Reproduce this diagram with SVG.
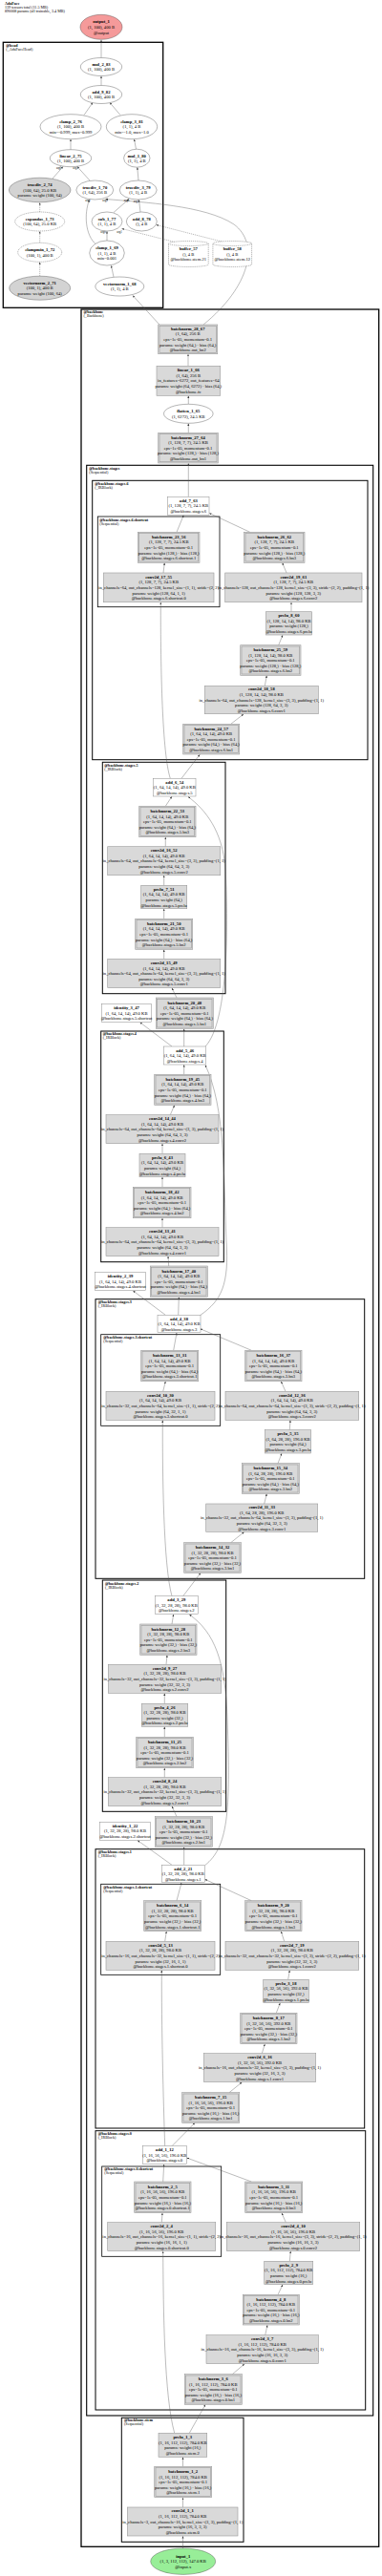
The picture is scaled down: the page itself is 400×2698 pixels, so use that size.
<svg xmlns="http://www.w3.org/2000/svg" width="400" height="2698" viewBox="0 0 400 2698">
<style>
text{font-family:"Liberation Serif","Times New Roman",serif;font-size:4.6px;fill:#000}
.t{text-anchor:middle}
.b{font-weight:bold}
.cl{font-size:4.1px}
.hd{font-size:4.1px}
.g{fill:#d9d9d9;stroke:#9a9a9a;stroke-width:0.6}
.gi{fill:none;stroke:#9a9a9a;stroke-width:0.6}
.w{fill:#fff;stroke:#8a8a8a;stroke-width:0.5}
.el{fill:#fff;stroke:#444;stroke-width:0.4}
.elg{fill:#d3d3d3;stroke:#444;stroke-width:0.4}
.eld{fill:#fff;stroke:#444;stroke-width:0.4;stroke-dasharray:1.2,0.8}
.box{fill:none;stroke:#000}
.e path{fill:none;stroke:#555;stroke-width:0.4;marker-end:url(#a)}
.e path.d{stroke-dasharray:1.2,0.8}
.lb{font-size:3px;text-anchor:middle}
</style>
<defs>
<marker id="a" viewBox="0 0 10 10" refX="10" refY="5" markerWidth="2.4" markerHeight="2.4" orient="auto" markerUnits="userSpaceOnUse"><path d="M0,1L10,5L0,9z" fill="#333"/></marker>
</defs>
<rect width="400" height="2698" fill="#fff"/>
<g id="header">
<text class="hd" x="5" y="5"><tspan class="b">AdaFace</tspan><tspan x="5" dy="4">139 tensors total (11.5 MB)</tspan><tspan x="5" dy="4">890008 params (all trainable, 3.4 MB)</tspan></text>
</g>
<g id="clusters">
<rect class="box" x="3.3" y="44.3" width="167.4" height="278" stroke-width="1.3"/>
<text class="cl" x="6.3" y="48.7"><tspan class="b">@head</tspan><tspan x="6.3" dy="4">(_AdaFaceHead)</tspan></text>
<rect class="box" x="85" y="324" width="311.7" height="2343.3" stroke-width="1.3"/>
<text class="cl" x="87.5" y="328.2"><tspan class="b">@backbone</tspan><tspan x="87.5" dy="4">(_Backbone)</tspan></text>
<rect class="box" x="90.7" y="487.3" width="300" height="2042.7" stroke-width="1.1"/>
<text class="cl" x="93.3" y="492"><tspan class="b">@backbone.stages</tspan><tspan x="93.3" dy="4">(Sequential)</tspan></text>
<rect class="box" x="96.7" y="503.3" width="288.3" height="292.4" stroke-width="1"/>
<text class="cl" x="99.3" y="508"><tspan class="b">@backbone.stages.6</tspan><tspan x="99.3" dy="4">(_IRBlock)</tspan></text>
<rect class="box" x="102.3" y="541" width="127.7" height="94.7" stroke-width="0.8"/>
<text class="cl" x="104.3" y="545.6"><tspan class="b">@backbone.stages.6.shortcut</tspan><tspan x="104.3" dy="4">(Sequential)</tspan></text>
<rect class="box" x="107.3" y="798.3" width="128.7" height="242.4" stroke-width="1"/>
<text class="cl" x="109.3" y="803"><tspan class="b">@backbone.stages.5</tspan><tspan x="109.3" dy="4">(_IRBlock)</tspan></text>
<rect class="box" x="105.7" y="1080" width="128.6" height="241.7" stroke-width="1"/>
<text class="cl" x="107.7" y="1084"><tspan class="b">@backbone.stages.4</tspan><tspan x="107.7" dy="4">(_IRBlock)</tspan></text>
<rect class="box" x="100" y="1360.7" width="281.7" height="292.6" stroke-width="1"/>
<text class="cl" x="102.7" y="1364.6"><tspan class="b">@backbone.stages.3</tspan><tspan x="102.7" dy="4">(_IRBlock)</tspan></text>
<rect class="box" x="105.7" y="1397.7" width="125" height="95.6" stroke-width="0.8"/>
<text class="cl" x="108.3" y="1402"><tspan class="b">@backbone.stages.3.shortcut</tspan><tspan x="108.3" dy="4">(Sequential)</tspan></text>
<rect class="box" x="107.3" y="1655" width="129.4" height="242.3" stroke-width="1"/>
<text class="cl" x="110" y="1659.6"><tspan class="b">@backbone.stages.2</tspan><tspan x="110" dy="4">(_IRBlock)</tspan></text>
<rect class="box" x="100" y="1936.7" width="281.7" height="292.3" stroke-width="1"/>
<text class="cl" x="102.7" y="1940.6"><tspan class="b">@backbone.stages.1</tspan><tspan x="102.7" dy="4">(_IRBlock)</tspan></text>
<rect class="box" x="105.7" y="1973.3" width="125" height="95" stroke-width="0.8"/>
<text class="cl" x="108.3" y="1978"><tspan class="b">@backbone.stages.1.shortcut</tspan><tspan x="108.3" dy="4">(Sequential)</tspan></text>
<rect class="box" x="100" y="2231.7" width="282.7" height="292.3" stroke-width="1"/>
<text class="cl" x="102.7" y="2235.6"><tspan class="b">@backbone.stages.0</tspan><tspan x="102.7" dy="4">(_IRBlock)</tspan></text>
<rect class="box" x="106.7" y="2269" width="125" height="94.3" stroke-width="0.8"/>
<text class="cl" x="109.3" y="2273"><tspan class="b">@backbone.stages.0.shortcut</tspan><tspan x="109.3" dy="4">(Sequential)</tspan></text>
<rect class="box" x="127.3" y="2532.3" width="127.7" height="130" stroke-width="1"/>
<text class="cl" x="130" y="2536.3"><tspan class="b">@backbone.stem</tspan><tspan x="130" dy="4">(Sequential)</tspan></text>
</g>
<g id="connectors" class="e">
<path d="M106,60.5L106,41.8"/>
<path d="M106,89.5L106,79.8"/>
<path d="M88,120.5L97,107.5"/>
<path d="M126,120.5L115,107.5"/>
<path d="M74,156.7L74,145.9"/>
<path d="M142.5,156.2L140.5,145.9"/>
<path d="M55,187L66,174.6"/>
<path d="M94,189L81,174.6"/>
<path d="M145,189L143.8,175.3"/>
<path class="d" d="M41.7,222L41.7,212.2"/>
<path class="d" d="M41.7,254.3L41.7,242.2"/>
<path class="d" d="M41.7,289.2L41.7,274.5"/>
<path d="M112,252L112,242.2"/>
<path d="M119,290.2L116.5,278.2"/>
<path d="M119,222.5L135,208.5"/>
<path d="M147,222L145.5,209.2"/>
<path class="d" d="M185,254L127.5,239.5"/>
<path class="d" d="M236,254L163.5,235.5"/>
<path d="M100.5,256C89,246 88,224 93.5,209.3"/>
<path d="M213,340C262,300 272,255 245,235C215,215 150,212 110.5,208.5"/>
<path d="M167,340L139,309.5"/>
<path d="M197,383.3L197,371"/>
<path d="M197.3,423.3L197.3,414.5"/>
<path d="M197.3,453.3L197.3,443.5"/>
<path d="M197.3,520.3L197.3,485.2"/>
<path d="M185,557.3L192.3,539.5"/>
<path d="M261.7,557.3L219.3,537.5"/>
<path d="M171,600L172.3,589.5"/>
<path d="M300,600L295.7,589.5"/>
<path d="M305,640.7L305,631"/>
<path d="M291.7,675.7L296,665.2"/>
<path d="M277.3,718.3L279.3,707.5"/>
<path d="M241.7,758.3L255,748"/>
<path d="M190,815.3L209.3,790.2"/>
<path d="M178.3,815.3C170,790 168,700 168.3,631"/>
<path d="M173.3,844.3L180,834.2"/>
<path d="M173.3,886.7L173.3,876.9"/>
<path d="M171.7,927.3L171.7,916.9"/>
<path d="M171.7,962.3L171.7,951.9"/>
<path d="M171.7,1004.3L171.7,994.5"/>
<path d="M185,1045L180,1034.9"/>
<path d="M215,1096C240,1070 239,960 236,910C233,870 215,848 197,834.5"/>
<path d="M192.7,1096L192.7,1077.5"/>
<path d="M180,1096L146.7,1070.9"/>
<path d="M192.7,1125.3L192.7,1115.2"/>
<path d="M178.3,1167.7L182.7,1157.5"/>
<path d="M170,1208.3L170,1197.9"/>
<path d="M170,1243.3L170,1232.9"/>
<path d="M170,1285.7L170,1275.9"/>
<path d="M176.7,1326L176,1315.9"/>
<path d="M186.7,1377.3L187.3,1358.5"/>
<path d="M173.3,1377.3L139.3,1351.9"/>
<path d="M210,1377.3C232,1362 240,1345 237,1300C234,1230 236,1160 215,1115.5"/>
<path d="M181.7,1414.3L185,1396"/>
<path d="M263.3,1414.3L209.5,1391.7"/>
<path d="M170.7,1457.3L173.3,1446.9"/>
<path d="M299,1457.3L294.3,1446.9"/>
<path d="M303.3,1497.7L304,1487.5"/>
<path d="M291,1532.7L295,1522.2"/>
<path d="M276.7,1575L279.3,1564.5"/>
<path d="M241.7,1615.7L255.7,1604.5"/>
<path d="M191.7,1671.7L210,1647.5"/>
<path d="M180,1671.7C171,1640 170,1540 170.3,1487.5"/>
<path d="M180,1701L181.7,1690.9"/>
<path d="M174,1743.3L175,1733.5"/>
<path d="M172.3,1784.3L172.3,1773.5"/>
<path d="M172.3,1819.3L172.3,1808.5"/>
<path d="M172.3,1861.7L172.3,1851.9"/>
<path d="M185,1902.7L180,1891.9"/>
<path d="M192.7,1953.3L192.7,1934.5"/>
<path d="M180,1953.3L144,1927.5"/>
<path d="M215,1953.3C238,1935 242,1900 238,1800C236,1740 225,1710 198.3,1691"/>
<path d="M185,1990.7L190,1971.9"/>
<path d="M263.3,1990.7L214.5,1968.3"/>
<path d="M172.7,2033.3L174.3,2022.9"/>
<path d="M297.7,2033.3L294.3,2022.9"/>
<path d="M301.7,2073.3L303.3,2063.5"/>
<path d="M289.3,2108.3L293.3,2097.9"/>
<path d="M274.3,2150.7L277.3,2140.9"/>
<path d="M240,2191.7L253.3,2180.9"/>
<path d="M180,2247.7L204,2223.5"/>
<path d="M172.7,2247.7C171,2200 169,2120 169.3,2063.5"/>
<path d="M170.7,2285L171.7,2266.9"/>
<path d="M263.3,2285L195.5,2260"/>
<path d="M169.3,2327.7L170,2317.9"/>
<path d="M299.3,2327.7L295,2317.9"/>
<path d="M303.3,2368.3L304.3,2357.9"/>
<path d="M291,2403.3L296,2392.9"/>
<path d="M277.7,2445.7L280,2435.2"/>
<path d="M243.3,2486.7L256,2475.9"/>
<path d="M198.3,2548.3L215,2518.5"/>
<path d="M182.7,2548.3C172,2510 171,2420 170.7,2358"/>
<path d="M191.5,2583.3L191.5,2573.5"/>
<path d="M191.5,2626L191.5,2616"/>
<path d="M191.5,2669L191.5,2656.2"/>
</g>
<g id="edge-labels">
<text class="lb" x="61.7" y="177">arg0</text>
<text class="lb" x="79" y="177">arg1</text>
<text class="lb" x="92" y="211">arg1</text>
<text class="lb" x="110" y="211">arg0</text>
<text class="lb" x="132.5" y="211">arg0</text>
<text class="lb" x="142.5" y="211.5">arg1</text>
<text class="lb" x="108" y="244">arg0</text>
<text class="lb" x="125" y="243.5">arg1</text>
</g>
<g id="output_1"><ellipse cx="106" cy="28.3" rx="22" ry="13" fill="#f59a9a" stroke="#444" stroke-width="0.4"/><text class="t" x="106" y="24.3"><tspan class="b">output_1</tspan><tspan x="106" dy="5.6">(1, 100), 400 B</tspan><tspan x="106" dy="5.6">@output</tspan></text></g>
<g id="mul_2_83"><ellipse class="el" cx="106" cy="70" rx="21.7" ry="9.5"/><text class="t" x="106" y="68.8"><tspan class="b">mul_2_83</tspan><tspan x="106" dy="5.6">(1, 100), 400 B</tspan></text></g>
<g id="add_9_82"><ellipse class="el" cx="106" cy="99" rx="21.7" ry="9.5"/><text class="t" x="106" y="97.8"><tspan class="b">add_9_82</tspan><tspan x="106" dy="5.6">(1, 100), 400 B</tspan></text></g>
<g id="clamp_2_76"><ellipse class="el" cx="74" cy="132.7" rx="32" ry="13"/><text class="t" x="74" y="128.7"><tspan class="b">clamp_2_76</tspan><tspan x="74" dy="5.6">(1, 100), 400 B</tspan><tspan x="74" dy="5.6">min=-0.999, max=0.999</tspan></text></g>
<g id="clamp_3_81"><ellipse class="el" cx="138" cy="132.7" rx="26.7" ry="13"/><text class="t" x="138" y="128.7"><tspan class="b">clamp_3_81</tspan><tspan x="138" dy="5.6">(1, 1), 4 B</tspan><tspan x="138" dy="5.6">min=-1.0, max=1.0</tspan></text></g>
<g id="linear_2_75"><ellipse class="el" cx="74" cy="165.7" rx="21.7" ry="9"/><text class="t" x="74" y="164.5"><tspan class="b">linear_2_75</tspan><tspan x="74" dy="5.6">(1, 100), 400 B</tspan></text></g>
<g id="mul_1_80"><ellipse class="el" cx="143.3" cy="165.7" rx="13.7" ry="9.5"/><text class="t" x="143.3" y="164.5"><tspan class="b">mul_1_80</tspan><tspan x="143.3" dy="5.6">(1, 1), 4 B</tspan></text></g>
<g id="truediv_2_74"><ellipse class="elg" cx="41.7" cy="199" rx="32.3" ry="12.8"/><text class="t" x="41.7" y="195"><tspan class="b">truediv_2_74</tspan><tspan x="41.7" dy="5.6">(100, 64), 25.0 KB</tspan><tspan x="41.7" dy="5.6">params: weight (100, 64)</tspan></text></g>
<g id="truediv_1_70"><ellipse class="el" cx="99.3" cy="199" rx="19.5" ry="10"/><text class="t" x="99.3" y="197.8"><tspan class="b">truediv_1_70</tspan><tspan x="99.3" dy="5.6">(1, 64), 256 B</tspan></text></g>
<g id="truediv_3_79"><ellipse class="el" cx="144.7" cy="199" rx="19.5" ry="10"/><text class="t" x="144.7" y="197.8"><tspan class="b">truediv_3_79</tspan><tspan x="144.7" dy="5.6">(1, 1), 4 B</tspan></text></g>
<g id="expandas_1_73"><ellipse class="eld" cx="41.7" cy="232" rx="26" ry="10"/><text class="t" x="41.7" y="230.8"><tspan class="b">expandas_1_73</tspan><tspan x="41.7" dy="5.6">(100, 64), 25.0 KB</tspan></text></g>
<g id="sub_1_77"><ellipse class="el" cx="112" cy="232" rx="16" ry="10"/><text class="t" x="112" y="230.8"><tspan class="b">sub_1_77</tspan><tspan x="112" dy="5.6">(1, 1), 4 B</tspan></text></g>
<g id="add_8_78"><ellipse class="el" cx="148.3" cy="232" rx="16" ry="10"/><text class="t" x="148.3" y="230.8"><tspan class="b">add_8_78</tspan><tspan x="148.3" dy="5.6">(), 4 B</tspan></text></g>
<g id="clampmin_1_72"><ellipse class="eld" cx="41.7" cy="264.3" rx="23" ry="10"/><text class="t" x="41.7" y="263.1"><tspan class="b">clampmin_1_72</tspan><tspan x="41.7" dy="5.6">(100, 1), 400 B</tspan></text></g>
<g id="clamp_1_69"><ellipse class="el" cx="112" cy="265" rx="18.3" ry="13"/><text class="t" x="112" y="261"><tspan class="b">clamp_1_69</tspan><tspan x="112" dy="5.6">(1, 1), 4 B</tspan><tspan x="112" dy="5.6">min=0.001</tspan></text></g>
<g id="vectornorm_2_71"><ellipse class="elg" cx="41.7" cy="301.7" rx="32" ry="12.5"/><text class="t" x="41.7" y="297.7"><tspan class="b">vectornorm_2_71</tspan><tspan x="41.7" dy="5.6">(100, 1), 400 B</tspan><tspan x="41.7" dy="5.6">params: weight (100, 64)</tspan></text></g>
<g id="vectornorm_1_68"><ellipse class="el" cx="125.3" cy="300" rx="25.5" ry="10"/><text class="t" x="125.3" y="298.8"><tspan class="b">vectornorm_1_68</tspan><tspan x="125.3" dy="5.6">(1, 1), 4 B</tspan></text></g>
<g id="buffer_57"><path d="M176.5,255a20.85,2.5 0 0 0 41.7,0a20.85,2.5 0 0 0 -41.7,0v22a20.85,2.5 0 0 0 41.7,0v-22" fill="#fff" stroke="#444" stroke-width="0.4" stroke-dasharray="1.2,0.8"/><text class="t" x="197.3" y="262"><tspan class="b">buffer_57</tspan><tspan x="197.3" dy="5.6">(), 4 B</tspan><tspan x="197.3" dy="5.6">@backbone.stem.21</tspan></text></g>
<g id="buffer_58"><path d="M222.9,255a20.35,2.5 0 0 0 40.7,0a20.35,2.5 0 0 0 -40.7,0v22a20.35,2.5 0 0 0 40.7,0v-22" fill="#fff" stroke="#444" stroke-width="0.4" stroke-dasharray="1.2,0.8"/><text class="t" x="243.3" y="262"><tspan class="b">buffer_58</tspan><tspan x="243.3" dy="5.6">(), 4 B</tspan><tspan x="243.3" dy="5.6">@backbone.stem.12</tspan></text></g>
<g id="batchnorm_28_67"><rect class="g" x="165.7" y="340" width="62" height="30.7"/><rect class="gi" x="167" y="341.3" width="59.4" height="28.1"/><text class="t" x="196.7" y="345.7"><tspan class="b">batchnorm_28_67</tspan><tspan x="196.7" dy="5.6">(1, 64), 256 B</tspan><tspan x="196.7" dy="5.6">eps=1e-05, momentum=0.1</tspan><tspan x="196.7" dy="5.6">params: weight (64,) · bias (64,)</tspan><tspan x="196.7" dy="5.6">@backbone.out_bn2</tspan></text></g>
<g id="linear_1_66"><rect class="g" x="164" y="383.3" width="66.7" height="31"/><text class="t" x="197.3" y="389.2"><tspan class="b">linear_1_66</tspan><tspan x="197.3" dy="5.6">(1, 64), 256 B</tspan><tspan x="197.3" dy="5.6">in_features=6272, out_features=64</tspan><tspan x="197.3" dy="5.6">params: weight (64, 6272) · bias (64,)</tspan><tspan x="197.3" dy="5.6">@backbone.fc</tspan></text></g>
<g id="flatten_1_65"><ellipse class="el" cx="197.3" cy="433.3" rx="25.8" ry="10"/><text class="t" x="197.3" y="432.1"><tspan class="b">flatten_1_65</tspan><tspan x="197.3" dy="5.6">(1, 6272), 24.5 KB</tspan></text></g>
<g id="batchnorm_27_64"><rect class="g" x="165.7" y="453.3" width="62.6" height="31.7"/><rect class="gi" x="167" y="454.6" width="60" height="29.1"/><text class="t" x="197" y="459.6"><tspan class="b">batchnorm_27_64</tspan><tspan x="197" dy="5.6">(1, 128, 7, 7), 24.5 KB</tspan><tspan x="197" dy="5.6">eps=1e-05, momentum=0.1</tspan><tspan x="197" dy="5.6">params: weight (128,) · bias (128,)</tspan><tspan x="197" dy="5.6">@backbone.out_bn1</tspan></text></g>
<g id="add_7_63"><rect class="w" x="175.7" y="520.3" width="43.3" height="19"/><text class="t" x="197.3" y="525.8"><tspan class="b">add_7_63</tspan><tspan x="197.3" dy="5.6">(1, 128, 7, 7), 24.5 KB</tspan><tspan x="197.3" dy="5.6">@backbone.stages.6</tspan></text></g>
<g id="batchnorm_23_56"><rect class="g" x="144.3" y="557.3" width="64.7" height="32"/><rect class="gi" x="145.6" y="558.6" width="62.1" height="29.4"/><text class="t" x="176.7" y="563.7"><tspan class="b">batchnorm_23_56</tspan><tspan x="176.7" dy="5.6">(1, 128, 7, 7), 24.5 KB</tspan><tspan x="176.7" dy="5.6">eps=1e-05, momentum=0.1</tspan><tspan x="176.7" dy="5.6">params: weight (128,) · bias (128,)</tspan><tspan x="176.7" dy="5.6">@backbone.stages.6.shortcut.1</tspan></text></g>
<g id="conv2d_17_55"><rect class="g" x="108.3" y="600" width="115.7" height="30.7"/><text class="t" x="166.2" y="605.7"><tspan class="b">conv2d_17_55</tspan><tspan x="166.2" dy="5.6">(1, 128, 7, 7), 24.5 KB</tspan><tspan x="166.2" dy="5.6">in_channels=64, out_channels=128, kernel_size=(1, 1), stride=(2, 2)</tspan><tspan x="166.2" dy="5.6">params: weight (128, 64, 1, 1)</tspan><tspan x="166.2" dy="5.6">@backbone.stages.6.shortcut.0</tspan></text></g>
<g id="batchnorm_26_62"><rect class="g" x="255.7" y="557.3" width="63.3" height="32"/><rect class="gi" x="257" y="558.6" width="60.7" height="29.4"/><text class="t" x="287.3" y="563.7"><tspan class="b">batchnorm_26_62</tspan><tspan x="287.3" dy="5.6">(1, 128, 7, 7), 24.5 KB</tspan><tspan x="287.3" dy="5.6">eps=1e-05, momentum=0.1</tspan><tspan x="287.3" dy="5.6">params: weight (128,) · bias (128,)</tspan><tspan x="287.3" dy="5.6">@backbone.stages.6.bn3</tspan></text></g>
<g id="conv2d_19_61"><rect class="g" x="235.7" y="600" width="143.3" height="30.7"/><text class="t" x="307.3" y="605.7"><tspan class="b">conv2d_19_61</tspan><tspan x="307.3" dy="5.6">(1, 128, 7, 7), 24.5 KB</tspan><tspan x="307.3" dy="5.6">in_channels=128, out_channels=128, kernel_size=(3, 3), stride=(2, 2), padding=(1, 1)</tspan><tspan x="307.3" dy="5.6">params: weight (128, 128, 3, 3)</tspan><tspan x="307.3" dy="5.6">@backbone.stages.6.conv2</tspan></text></g>
<g id="prelu_8_60"><rect class="g" x="278.3" y="640.7" width="48.4" height="24.3"/><text class="t" x="302.5" y="646"><tspan class="b">prelu_8_60</tspan><tspan x="302.5" dy="5.6">(1, 128, 14, 14), 98.0 KB</tspan><tspan x="302.5" dy="5.6">params: weight (128,)</tspan><tspan x="302.5" dy="5.6">@backbone.stages.6.prelu</tspan></text></g>
<g id="batchnorm_25_59"><rect class="g" x="251.7" y="675.7" width="63.3" height="31.6"/><rect class="gi" x="253" y="677" width="60.7" height="29"/><text class="t" x="283.3" y="681.9"><tspan class="b">batchnorm_25_59</tspan><tspan x="283.3" dy="5.6">(1, 128, 14, 14), 98.0 KB</tspan><tspan x="283.3" dy="5.6">eps=1e-05, momentum=0.1</tspan><tspan x="283.3" dy="5.6">params: weight (128,) · bias (128,)</tspan><tspan x="283.3" dy="5.6">@backbone.stages.6.bn2</tspan></text></g>
<g id="conv2d_18_58"><rect class="g" x="214.3" y="718.3" width="119" height="29.4"/><text class="t" x="273.8" y="723.4"><tspan class="b">conv2d_18_58</tspan><tspan x="273.8" dy="5.6">(1, 128, 14, 14), 98.0 KB</tspan><tspan x="273.8" dy="5.6">in_channels=64, out_channels=128, kernel_size=(3, 3), padding=(1, 1)</tspan><tspan x="273.8" dy="5.6">params: weight (128, 64, 3, 3)</tspan><tspan x="273.8" dy="5.6">@backbone.stages.6.conv1</tspan></text></g>
<g id="batchnorm_24_57"><rect class="g" x="191.7" y="758.3" width="59" height="31.7"/><rect class="gi" x="193" y="759.6" width="56.4" height="29.1"/><text class="t" x="221.2" y="764.6"><tspan class="b">batchnorm_24_57</tspan><tspan x="221.2" dy="5.6">(1, 64, 14, 14), 49.0 KB</tspan><tspan x="221.2" dy="5.6">eps=1e-05, momentum=0.1</tspan><tspan x="221.2" dy="5.6">params: weight (64,) · bias (64,)</tspan><tspan x="221.2" dy="5.6">@backbone.stages.6.bn1</tspan></text></g>
<g id="add_6_54"><rect class="w" x="160.7" y="815.3" width="44.3" height="18.7"/><text class="t" x="182.8" y="820.7"><tspan class="b">add_6_54</tspan><tspan x="182.8" dy="5.6">(1, 64, 14, 14), 49.0 KB</tspan><tspan x="182.8" dy="5.6">@backbone.stages.5</tspan></text></g>
<g id="batchnorm_22_53"><rect class="g" x="145.7" y="844.3" width="59.3" height="32.4"/><rect class="gi" x="147" y="845.6" width="56.7" height="29.8"/><text class="t" x="175.3" y="850.9"><tspan class="b">batchnorm_22_53</tspan><tspan x="175.3" dy="5.6">(1, 64, 14, 14), 49.0 KB</tspan><tspan x="175.3" dy="5.6">eps=1e-05, momentum=0.1</tspan><tspan x="175.3" dy="5.6">params: weight (64,) · bias (64,)</tspan><tspan x="175.3" dy="5.6">@backbone.stages.5.bn3</tspan></text></g>
<g id="conv2d_16_52"><rect class="g" x="112.7" y="886.7" width="118" height="30"/><text class="t" x="171.7" y="892.1"><tspan class="b">conv2d_16_52</tspan><tspan x="171.7" dy="5.6">(1, 64, 14, 14), 49.0 KB</tspan><tspan x="171.7" dy="5.6">in_channels=64, out_channels=64, kernel_size=(3, 3), padding=(1, 1)</tspan><tspan x="171.7" dy="5.6">params: weight (64, 64, 3, 3)</tspan><tspan x="171.7" dy="5.6">@backbone.stages.5.conv2</tspan></text></g>
<g id="prelu_7_51"><rect class="g" x="147.7" y="927.3" width="48" height="24.4"/><text class="t" x="171.7" y="932.7"><tspan class="b">prelu_7_51</tspan><tspan x="171.7" dy="5.6">(1, 64, 14, 14), 49.0 KB</tspan><tspan x="171.7" dy="5.6">params: weight (64,)</tspan><tspan x="171.7" dy="5.6">@backbone.stages.5.prelu</tspan></text></g>
<g id="batchnorm_21_50"><rect class="g" x="141.7" y="962.3" width="60" height="32"/><rect class="gi" x="143" y="963.6" width="57.4" height="29.4"/><text class="t" x="171.7" y="968.7"><tspan class="b">batchnorm_21_50</tspan><tspan x="171.7" dy="5.6">(1, 64, 14, 14), 49.0 KB</tspan><tspan x="171.7" dy="5.6">eps=1e-05, momentum=0.1</tspan><tspan x="171.7" dy="5.6">params: weight (64,) · bias (64,)</tspan><tspan x="171.7" dy="5.6">@backbone.stages.5.bn2</tspan></text></g>
<g id="conv2d_15_49"><rect class="g" x="112.7" y="1004.3" width="118" height="30.4"/><text class="t" x="171.7" y="1009.9"><tspan class="b">conv2d_15_49</tspan><tspan x="171.7" dy="5.6">(1, 64, 14, 14), 49.0 KB</tspan><tspan x="171.7" dy="5.6">in_channels=64, out_channels=64, kernel_size=(3, 3), padding=(1, 1)</tspan><tspan x="171.7" dy="5.6">params: weight (64, 64, 3, 3)</tspan><tspan x="171.7" dy="5.6">@backbone.stages.5.conv1</tspan></text></g>
<g id="batchnorm_20_48"><rect class="g" x="163.3" y="1045" width="60" height="32.3"/><rect class="gi" x="164.6" y="1046.3" width="57.4" height="29.7"/><text class="t" x="193.3" y="1051.6"><tspan class="b">batchnorm_20_48</tspan><tspan x="193.3" dy="5.6">(1, 64, 14, 14), 49.0 KB</tspan><tspan x="193.3" dy="5.6">eps=1e-05, momentum=0.1</tspan><tspan x="193.3" dy="5.6">params: weight (64,) · bias (64,)</tspan><tspan x="193.3" dy="5.6">@backbone.stages.5.bn1</tspan></text></g>
<g id="identity_3_47"><rect class="w" x="106.7" y="1051.7" width="51.6" height="19"/><text class="t" x="132.5" y="1057.2"><tspan class="b">identity_3_47</tspan><tspan x="132.5" dy="5.6">(1, 64, 14, 14), 49.0 KB</tspan><tspan x="132.5" dy="5.6">@backbone.stages.5.shortcut</tspan></text></g>
<g id="add_5_46"><rect class="w" x="171.7" y="1096" width="44" height="19"/><text class="t" x="193.7" y="1101.5"><tspan class="b">add_5_46</tspan><tspan x="193.7" dy="5.6">(1, 64, 14, 14), 49.0 KB</tspan><tspan x="193.7" dy="5.6">@backbone.stages.4</tspan></text></g>
<g id="batchnorm_19_45"><rect class="g" x="161.7" y="1125.3" width="59.3" height="32"/><rect class="gi" x="163" y="1126.6" width="56.7" height="29.4"/><text class="t" x="191.3" y="1131.7"><tspan class="b">batchnorm_19_45</tspan><tspan x="191.3" dy="5.6">(1, 64, 14, 14), 49.0 KB</tspan><tspan x="191.3" dy="5.6">eps=1e-05, momentum=0.1</tspan><tspan x="191.3" dy="5.6">params: weight (64,) · bias (64,)</tspan><tspan x="191.3" dy="5.6">@backbone.stages.4.bn3</tspan></text></g>
<g id="conv2d_14_44"><rect class="g" x="111" y="1167.7" width="118" height="30"/><text class="t" x="170" y="1173.1"><tspan class="b">conv2d_14_44</tspan><tspan x="170" dy="5.6">(1, 64, 14, 14), 49.0 KB</tspan><tspan x="170" dy="5.6">in_channels=64, out_channels=64, kernel_size=(3, 3), padding=(1, 1)</tspan><tspan x="170" dy="5.6">params: weight (64, 64, 3, 3)</tspan><tspan x="170" dy="5.6">@backbone.stages.4.conv2</tspan></text></g>
<g id="prelu_6_43"><rect class="g" x="146" y="1208.3" width="48" height="24.4"/><text class="t" x="170" y="1213.7"><tspan class="b">prelu_6_43</tspan><tspan x="170" dy="5.6">(1, 64, 14, 14), 49.0 KB</tspan><tspan x="170" dy="5.6">params: weight (64,)</tspan><tspan x="170" dy="5.6">@backbone.stages.4.prelu</tspan></text></g>
<g id="batchnorm_18_42"><rect class="g" x="139.3" y="1243.3" width="60.7" height="32.4"/><rect class="gi" x="140.6" y="1244.6" width="58.1" height="29.8"/><text class="t" x="169.7" y="1249.9"><tspan class="b">batchnorm_18_42</tspan><tspan x="169.7" dy="5.6">(1, 64, 14, 14), 49.0 KB</tspan><tspan x="169.7" dy="5.6">eps=1e-05, momentum=0.1</tspan><tspan x="169.7" dy="5.6">params: weight (64,) · bias (64,)</tspan><tspan x="169.7" dy="5.6">@backbone.stages.4.bn2</tspan></text></g>
<g id="conv2d_13_41"><rect class="g" x="111" y="1285.7" width="118" height="30"/><text class="t" x="170" y="1291.1"><tspan class="b">conv2d_13_41</tspan><tspan x="170" dy="5.6">(1, 64, 14, 14), 49.0 KB</tspan><tspan x="170" dy="5.6">in_channels=64, out_channels=64, kernel_size=(3, 3), padding=(1, 1)</tspan><tspan x="170" dy="5.6">params: weight (64, 64, 3, 3)</tspan><tspan x="170" dy="5.6">@backbone.stages.4.conv1</tspan></text></g>
<g id="batchnorm_17_40"><rect class="g" x="157.3" y="1326" width="60" height="32.3"/><rect class="gi" x="158.6" y="1327.3" width="57.4" height="29.7"/><text class="t" x="187.3" y="1332.6"><tspan class="b">batchnorm_17_40</tspan><tspan x="187.3" dy="5.6">(1, 64, 14, 14), 49.0 KB</tspan><tspan x="187.3" dy="5.6">eps=1e-05, momentum=0.1</tspan><tspan x="187.3" dy="5.6">params: weight (64,) · bias (64,)</tspan><tspan x="187.3" dy="5.6">@backbone.stages.4.bn1</tspan></text></g>
<g id="identity_2_39"><rect class="w" x="99.3" y="1332.3" width="53.4" height="19.4"/><text class="t" x="126" y="1338"><tspan class="b">identity_2_39</tspan><tspan x="126" dy="5.6">(1, 64, 14, 14), 49.0 KB</tspan><tspan x="126" dy="5.6">@backbone.stages.4.shortcut</tspan></text></g>
<g id="add_4_38"><rect class="w" x="165" y="1377.3" width="45" height="18.4"/><text class="t" x="187.5" y="1382.5"><tspan class="b">add_4_38</tspan><tspan x="187.5" dy="5.6">(1, 64, 14, 14), 49.0 KB</tspan><tspan x="187.5" dy="5.6">@backbone.stages.3</tspan></text></g>
<g id="batchnorm_13_31"><rect class="g" x="147.7" y="1414.3" width="60" height="32.4"/><rect class="gi" x="149" y="1415.6" width="57.4" height="29.8"/><text class="t" x="177.7" y="1420.9"><tspan class="b">batchnorm_13_31</tspan><tspan x="177.7" dy="5.6">(1, 64, 14, 14), 49.0 KB</tspan><tspan x="177.7" dy="5.6">eps=1e-05, momentum=0.1</tspan><tspan x="177.7" dy="5.6">params: weight (64,) · bias (64,)</tspan><tspan x="177.7" dy="5.6">@backbone.stages.3.shortcut.1</tspan></text></g>
<g id="conv2d_10_30"><rect class="g" x="111" y="1457.3" width="114" height="30"/><text class="t" x="168" y="1462.7"><tspan class="b">conv2d_10_30</tspan><tspan x="168" dy="5.6">(1, 64, 14, 14), 49.0 KB</tspan><tspan x="168" dy="5.6">in_channels=32, out_channels=64, kernel_size=(1, 1), stride=(2, 2)</tspan><tspan x="168" dy="5.6">params: weight (64, 32, 1, 1)</tspan><tspan x="168" dy="5.6">@backbone.stages.3.shortcut.0</tspan></text></g>
<g id="batchnorm_16_37"><rect class="g" x="256.7" y="1414.3" width="59.3" height="32.4"/><rect class="gi" x="258" y="1415.6" width="56.7" height="29.8"/><text class="t" x="286.3" y="1420.9"><tspan class="b">batchnorm_16_37</tspan><tspan x="286.3" dy="5.6">(1, 64, 14, 14), 49.0 KB</tspan><tspan x="286.3" dy="5.6">eps=1e-05, momentum=0.1</tspan><tspan x="286.3" dy="5.6">params: weight (64,) · bias (64,)</tspan><tspan x="286.3" dy="5.6">@backbone.stages.3.bn3</tspan></text></g>
<g id="conv2d_12_36"><rect class="g" x="236" y="1457.3" width="139.7" height="30"/><text class="t" x="305.8" y="1462.7"><tspan class="b">conv2d_12_36</tspan><tspan x="305.8" dy="5.6">(1, 64, 14, 14), 49.0 KB</tspan><tspan x="305.8" dy="5.6">in_channels=64, out_channels=64, kernel_size=(3, 3), stride=(2, 2), padding=(1, 1)</tspan><tspan x="305.8" dy="5.6">params: weight (64, 64, 3, 3)</tspan><tspan x="305.8" dy="5.6">@backbone.stages.3.conv2</tspan></text></g>
<g id="prelu_5_35"><rect class="g" x="277.3" y="1497.7" width="48.4" height="24.3"/><text class="t" x="301.5" y="1503"><tspan class="b">prelu_5_35</tspan><tspan x="301.5" dy="5.6">(1, 64, 28, 28), 196.0 KB</tspan><tspan x="301.5" dy="5.6">params: weight (64,)</tspan><tspan x="301.5" dy="5.6">@backbone.stages.3.prelu</tspan></text></g>
<g id="batchnorm_15_34"><rect class="g" x="253.3" y="1532.7" width="60" height="31.6"/><rect class="gi" x="254.6" y="1534" width="57.4" height="29"/><text class="t" x="283.3" y="1538.9"><tspan class="b">batchnorm_15_34</tspan><tspan x="283.3" dy="5.6">(1, 64, 28, 28), 196.0 KB</tspan><tspan x="283.3" dy="5.6">eps=1e-05, momentum=0.1</tspan><tspan x="283.3" dy="5.6">params: weight (64,) · bias (64,)</tspan><tspan x="283.3" dy="5.6">@backbone.stages.3.bn2</tspan></text></g>
<g id="conv2d_11_33"><rect class="g" x="215.7" y="1575" width="117" height="29.3"/><text class="t" x="274.2" y="1580.1"><tspan class="b">conv2d_11_33</tspan><tspan x="274.2" dy="5.6">(1, 64, 28, 28), 196.0 KB</tspan><tspan x="274.2" dy="5.6">in_channels=32, out_channels=64, kernel_size=(3, 3), padding=(1, 1)</tspan><tspan x="274.2" dy="5.6">params: weight (64, 32, 3, 3)</tspan><tspan x="274.2" dy="5.6">@backbone.stages.3.conv1</tspan></text></g>
<g id="batchnorm_14_32"><rect class="g" x="192.7" y="1615.7" width="59.6" height="31.6"/><rect class="gi" x="194" y="1617" width="57" height="29"/><text class="t" x="222.5" y="1621.9"><tspan class="b">batchnorm_14_32</tspan><tspan x="222.5" dy="5.6">(1, 32, 28, 28), 98.0 KB</tspan><tspan x="222.5" dy="5.6">eps=1e-05, momentum=0.1</tspan><tspan x="222.5" dy="5.6">params: weight (32,) · bias (32,)</tspan><tspan x="222.5" dy="5.6">@backbone.stages.3.bn1</tspan></text></g>
<g id="add_3_29"><rect class="w" x="162.3" y="1671.7" width="45" height="19"/><text class="t" x="184.8" y="1677.2"><tspan class="b">add_3_29</tspan><tspan x="184.8" dy="5.6">(1, 32, 28, 28), 98.0 KB</tspan><tspan x="184.8" dy="5.6">@backbone.stages.2</tspan></text></g>
<g id="batchnorm_12_28"><rect class="g" x="146.7" y="1701" width="59.3" height="32.3"/><rect class="gi" x="148" y="1702.3" width="56.7" height="29.7"/><text class="t" x="176.3" y="1707.6"><tspan class="b">batchnorm_12_28</tspan><tspan x="176.3" dy="5.6">(1, 32, 28, 28), 98.0 KB</tspan><tspan x="176.3" dy="5.6">eps=1e-05, momentum=0.1</tspan><tspan x="176.3" dy="5.6">params: weight (32,) · bias (32,)</tspan><tspan x="176.3" dy="5.6">@backbone.stages.2.bn3</tspan></text></g>
<g id="conv2d_9_27"><rect class="g" x="113.3" y="1743.3" width="118.4" height="30"/><text class="t" x="172.5" y="1748.7"><tspan class="b">conv2d_9_27</tspan><tspan x="172.5" dy="5.6">(1, 32, 28, 28), 98.0 KB</tspan><tspan x="172.5" dy="5.6">in_channels=32, out_channels=32, kernel_size=(3, 3), padding=(1, 1)</tspan><tspan x="172.5" dy="5.6">params: weight (32, 32, 3, 3)</tspan><tspan x="172.5" dy="5.6">@backbone.stages.2.conv2</tspan></text></g>
<g id="prelu_4_26"><rect class="g" x="148.3" y="1784.3" width="48.4" height="24"/><text class="t" x="172.5" y="1789.5"><tspan class="b">prelu_4_26</tspan><tspan x="172.5" dy="5.6">(1, 32, 28, 28), 98.0 KB</tspan><tspan x="172.5" dy="5.6">params: weight (32,)</tspan><tspan x="172.5" dy="5.6">@backbone.stages.2.prelu</tspan></text></g>
<g id="batchnorm_11_25"><rect class="g" x="142.7" y="1819.3" width="59.6" height="32.4"/><rect class="gi" x="144" y="1820.6" width="57" height="29.8"/><text class="t" x="172.5" y="1825.9"><tspan class="b">batchnorm_11_25</tspan><tspan x="172.5" dy="5.6">(1, 32, 28, 28), 98.0 KB</tspan><tspan x="172.5" dy="5.6">eps=1e-05, momentum=0.1</tspan><tspan x="172.5" dy="5.6">params: weight (32,) · bias (32,)</tspan><tspan x="172.5" dy="5.6">@backbone.stages.2.bn2</tspan></text></g>
<g id="conv2d_8_24"><rect class="g" x="113.3" y="1861.7" width="118.4" height="30"/><text class="t" x="172.5" y="1867.1"><tspan class="b">conv2d_8_24</tspan><tspan x="172.5" dy="5.6">(1, 32, 28, 28), 98.0 KB</tspan><tspan x="172.5" dy="5.6">in_channels=32, out_channels=32, kernel_size=(3, 3), padding=(1, 1)</tspan><tspan x="172.5" dy="5.6">params: weight (32, 32, 3, 3)</tspan><tspan x="172.5" dy="5.6">@backbone.stages.2.conv1</tspan></text></g>
<g id="batchnorm_10_23"><rect class="g" x="162.3" y="1902.7" width="60" height="31.6"/><rect class="gi" x="163.6" y="1904" width="57.4" height="29"/><text class="t" x="192.3" y="1908.9"><tspan class="b">batchnorm_10_23</tspan><tspan x="192.3" dy="5.6">(1, 32, 28, 28), 98.0 KB</tspan><tspan x="192.3" dy="5.6">eps=1e-05, momentum=0.1</tspan><tspan x="192.3" dy="5.6">params: weight (32,) · bias (32,)</tspan><tspan x="192.3" dy="5.6">@backbone.stages.2.bn1</tspan></text></g>
<g id="identity_1_22"><rect class="w" x="104.3" y="1908.3" width="53.4" height="19"/><text class="t" x="131" y="1913.8"><tspan class="b">identity_1_22</tspan><tspan x="131" dy="5.6">(1, 32, 28, 28), 98.0 KB</tspan><tspan x="131" dy="5.6">@backbone.stages.2.shortcut</tspan></text></g>
<g id="add_2_21"><rect class="w" x="169.3" y="1953.3" width="45" height="18.4"/><text class="t" x="191.8" y="1958.5"><tspan class="b">add_2_21</tspan><tspan x="191.8" dy="5.6">(1, 32, 28, 28), 98.0 KB</tspan><tspan x="191.8" dy="5.6">@backbone.stages.1</tspan></text></g>
<g id="batchnorm_6_14"><rect class="g" x="150.7" y="1990.7" width="60" height="32"/><rect class="gi" x="152" y="1992" width="57.4" height="29.4"/><text class="t" x="180.7" y="1997.1"><tspan class="b">batchnorm_6_14</tspan><tspan x="180.7" dy="5.6">(1, 32, 28, 28), 98.0 KB</tspan><tspan x="180.7" dy="5.6">eps=1e-05, momentum=0.1</tspan><tspan x="180.7" dy="5.6">params: weight (32,) · bias (32,)</tspan><tspan x="180.7" dy="5.6">@backbone.stages.1.shortcut.1</tspan></text></g>
<g id="batchnorm_9_20"><rect class="g" x="256.7" y="1990.7" width="59.3" height="32"/><rect class="gi" x="258" y="1992" width="56.7" height="29.4"/><text class="t" x="286.3" y="1997.1"><tspan class="b">batchnorm_9_20</tspan><tspan x="286.3" dy="5.6">(1, 32, 28, 28), 98.0 KB</tspan><tspan x="286.3" dy="5.6">eps=1e-05, momentum=0.1</tspan><tspan x="286.3" dy="5.6">params: weight (32,) · bias (32,)</tspan><tspan x="286.3" dy="5.6">@backbone.stages.1.bn3</tspan></text></g>
<g id="conv2d_5_13"><rect class="g" x="111" y="2033.3" width="114" height="30"/><text class="t" x="168" y="2038.7"><tspan class="b">conv2d_5_13</tspan><tspan x="168" dy="5.6">(1, 32, 28, 28), 98.0 KB</tspan><tspan x="168" dy="5.6">in_channels=16, out_channels=32, kernel_size=(1, 1), stride=(2, 2)</tspan><tspan x="168" dy="5.6">params: weight (32, 16, 1, 1)</tspan><tspan x="168" dy="5.6">@backbone.stages.1.shortcut.0</tspan></text></g>
<g id="conv2d_7_19"><rect class="g" x="236" y="2033.3" width="139.7" height="30"/><text class="t" x="305.8" y="2038.7"><tspan class="b">conv2d_7_19</tspan><tspan x="305.8" dy="5.6">(1, 32, 28, 28), 98.0 KB</tspan><tspan x="305.8" dy="5.6">in_channels=32, out_channels=32, kernel_size=(3, 3), stride=(2, 2), padding=(1, 1)</tspan><tspan x="305.8" dy="5.6">params: weight (32, 32, 3, 3)</tspan><tspan x="305.8" dy="5.6">@backbone.stages.1.conv2</tspan></text></g>
<g id="prelu_3_18"><rect class="g" x="275.7" y="2073.3" width="47.6" height="24.4"/><text class="t" x="299.5" y="2078.7"><tspan class="b">prelu_3_18</tspan><tspan x="299.5" dy="5.6">(1, 32, 56, 56), 392.0 KB</tspan><tspan x="299.5" dy="5.6">params: weight (32,)</tspan><tspan x="299.5" dy="5.6">@backbone.stages.1.prelu</tspan></text></g>
<g id="batchnorm_8_17"><rect class="g" x="251.7" y="2108.3" width="59.3" height="32.4"/><rect class="gi" x="253" y="2109.6" width="56.7" height="29.8"/><text class="t" x="281.3" y="2114.9"><tspan class="b">batchnorm_8_17</tspan><tspan x="281.3" dy="5.6">(1, 32, 56, 56), 392.0 KB</tspan><tspan x="281.3" dy="5.6">eps=1e-05, momentum=0.1</tspan><tspan x="281.3" dy="5.6">params: weight (32,) · bias (32,)</tspan><tspan x="281.3" dy="5.6">@backbone.stages.1.bn2</tspan></text></g>
<g id="conv2d_6_16"><rect class="g" x="213.3" y="2150.7" width="117.4" height="30"/><text class="t" x="272" y="2156.1"><tspan class="b">conv2d_6_16</tspan><tspan x="272" dy="5.6">(1, 32, 56, 56), 392.0 KB</tspan><tspan x="272" dy="5.6">in_channels=16, out_channels=32, kernel_size=(3, 3), padding=(1, 1)</tspan><tspan x="272" dy="5.6">params: weight (32, 16, 3, 3)</tspan><tspan x="272" dy="5.6">@backbone.stages.1.conv1</tspan></text></g>
<g id="batchnorm_7_15"><rect class="g" x="190.7" y="2191.7" width="60" height="31.6"/><rect class="gi" x="192" y="2193" width="57.4" height="29"/><text class="t" x="220.7" y="2197.9"><tspan class="b">batchnorm_7_15</tspan><tspan x="220.7" dy="5.6">(1, 16, 56, 56), 196.0 KB</tspan><tspan x="220.7" dy="5.6">eps=1e-05, momentum=0.1</tspan><tspan x="220.7" dy="5.6">params: weight (16,) · bias (16,)</tspan><tspan x="220.7" dy="5.6">@backbone.stages.1.bn1</tspan></text></g>
<g id="add_1_12"><rect class="w" x="149.3" y="2247.7" width="46" height="19"/><text class="t" x="172.3" y="2253.2"><tspan class="b">add_1_12</tspan><tspan x="172.3" dy="5.6">(1, 16, 56, 56), 196.0 KB</tspan><tspan x="172.3" dy="5.6">@backbone.stages.0</tspan></text></g>
<g id="batchnorm_2_5"><rect class="g" x="140.7" y="2285" width="59.3" height="32.7"/><rect class="gi" x="142" y="2286.3" width="56.7" height="30.1"/><text class="t" x="170.3" y="2291.7"><tspan class="b">batchnorm_2_5</tspan><tspan x="170.3" dy="5.6">(1, 16, 56, 56), 196.0 KB</tspan><tspan x="170.3" dy="5.6">eps=1e-05, momentum=0.1</tspan><tspan x="170.3" dy="5.6">params: weight (16,) · bias (16,)</tspan><tspan x="170.3" dy="5.6">@backbone.stages.0.shortcut.1</tspan></text></g>
<g id="conv2d_2_4"><rect class="g" x="112.7" y="2327.7" width="113" height="30"/><text class="t" x="169.2" y="2333.1"><tspan class="b">conv2d_2_4</tspan><tspan x="169.2" dy="5.6">(1, 16, 56, 56), 196.0 KB</tspan><tspan x="169.2" dy="5.6">in_channels=16, out_channels=16, kernel_size=(1, 1), stride=(2, 2)</tspan><tspan x="169.2" dy="5.6">params: weight (16, 16, 1, 1)</tspan><tspan x="169.2" dy="5.6">@backbone.stages.0.shortcut.0</tspan></text></g>
<g id="batchnorm_5_11"><rect class="g" x="256.7" y="2285" width="60" height="32.7"/><rect class="gi" x="258" y="2286.3" width="57.4" height="30.1"/><text class="t" x="286.7" y="2291.7"><tspan class="b">batchnorm_5_11</tspan><tspan x="286.7" dy="5.6">(1, 16, 56, 56), 196.0 KB</tspan><tspan x="286.7" dy="5.6">eps=1e-05, momentum=0.1</tspan><tspan x="286.7" dy="5.6">params: weight (16,) · bias (16,)</tspan><tspan x="286.7" dy="5.6">@backbone.stages.0.bn3</tspan></text></g>
<g id="conv2d_4_10"><rect class="g" x="237.3" y="2327.7" width="139.4" height="30"/><text class="t" x="307" y="2333.1"><tspan class="b">conv2d_4_10</tspan><tspan x="307" dy="5.6">(1, 16, 56, 56), 196.0 KB</tspan><tspan x="307" dy="5.6">in_channels=16, out_channels=16, kernel_size=(3, 3), stride=(2, 2), padding=(1, 1)</tspan><tspan x="307" dy="5.6">params: weight (16, 16, 3, 3)</tspan><tspan x="307" dy="5.6">@backbone.stages.0.conv2</tspan></text></g>
<g id="prelu_2_9"><rect class="g" x="276.7" y="2368.3" width="51" height="24.4"/><text class="t" x="302.2" y="2373.7"><tspan class="b">prelu_2_9</tspan><tspan x="302.2" dy="5.6">(1, 16, 112, 112), 784.0 KB</tspan><tspan x="302.2" dy="5.6">params: weight (16,)</tspan><tspan x="302.2" dy="5.6">@backbone.stages.0.prelu</tspan></text></g>
<g id="batchnorm_4_8"><rect class="g" x="254.3" y="2403.3" width="59" height="31.7"/><rect class="gi" x="255.6" y="2404.6" width="56.4" height="29.1"/><text class="t" x="283.8" y="2409.6"><tspan class="b">batchnorm_4_8</tspan><tspan x="283.8" dy="5.6">(1, 16, 112, 112), 784.0 KB</tspan><tspan x="283.8" dy="5.6">eps=1e-05, momentum=0.1</tspan><tspan x="283.8" dy="5.6">params: weight (16,) · bias (16,)</tspan><tspan x="283.8" dy="5.6">@backbone.stages.0.bn2</tspan></text></g>
<g id="conv2d_3_7"><rect class="g" x="216" y="2445.7" width="117.3" height="30"/><text class="t" x="274.7" y="2451.1"><tspan class="b">conv2d_3_7</tspan><tspan x="274.7" dy="5.6">(1, 16, 112, 112), 784.0 KB</tspan><tspan x="274.7" dy="5.6">in_channels=16, out_channels=16, kernel_size=(3, 3), padding=(1, 1)</tspan><tspan x="274.7" dy="5.6">params: weight (16, 16, 3, 3)</tspan><tspan x="274.7" dy="5.6">@backbone.stages.0.conv1</tspan></text></g>
<g id="batchnorm_3_6"><rect class="g" x="193.3" y="2486.7" width="60" height="31.6"/><rect class="gi" x="194.6" y="2488" width="57.4" height="29"/><text class="t" x="223.3" y="2492.9"><tspan class="b">batchnorm_3_6</tspan><tspan x="223.3" dy="5.6">(1, 16, 112, 112), 784.0 KB</tspan><tspan x="223.3" dy="5.6">eps=1e-05, momentum=0.1</tspan><tspan x="223.3" dy="5.6">params: weight (16,) · bias (16,)</tspan><tspan x="223.3" dy="5.6">@backbone.stages.0.bn1</tspan></text></g>
<g id="prelu_1_3"><rect class="g" x="166" y="2548.3" width="50.7" height="25"/><text class="t" x="191.3" y="2554"><tspan class="b">prelu_1_3</tspan><tspan x="191.3" dy="5.6">(1, 16, 112, 112), 784.0 KB</tspan><tspan x="191.3" dy="5.6">params: weight (16,)</tspan><tspan x="191.3" dy="5.6">@backbone.stem.2</tspan></text></g>
<g id="batchnorm_1_2"><rect class="g" x="161.7" y="2583.3" width="60" height="32.4"/><rect class="gi" x="163" y="2584.6" width="57.4" height="29.8"/><text class="t" x="191.7" y="2589.9"><tspan class="b">batchnorm_1_2</tspan><tspan x="191.7" dy="5.6">(1, 16, 112, 112), 784.0 KB</tspan><tspan x="191.7" dy="5.6">eps=1e-05, momentum=0.1</tspan><tspan x="191.7" dy="5.6">params: weight (16,) · bias (16,)</tspan><tspan x="191.7" dy="5.6">@backbone.stem.1</tspan></text></g>
<g id="conv2d_1_1"><rect class="g" x="133.3" y="2626" width="115.7" height="30"/><text class="t" x="191.2" y="2631.4"><tspan class="b">conv2d_1_1</tspan><tspan x="191.2" dy="5.6">(1, 16, 112, 112), 784.0 KB</tspan><tspan x="191.2" dy="5.6">in_channels=3, out_channels=16, kernel_size=(3, 3), padding=(1, 1)</tspan><tspan x="191.2" dy="5.6">params: weight (16, 3, 3, 3)</tspan><tspan x="191.2" dy="5.6">@backbone.stem.0</tspan></text></g>
<g id="input_1"><ellipse cx="191.7" cy="2682.7" rx="34" ry="13.7" fill="#98ee98" stroke="#444" stroke-width="0.4"/><text class="t" x="191.7" y="2678.7"><tspan class="b">input_1</tspan><tspan x="191.7" dy="5.6">(1, 3, 112, 112), 147.0 KB</tspan><tspan x="191.7" dy="5.6">@input.x</tspan></text></g>
</svg>
